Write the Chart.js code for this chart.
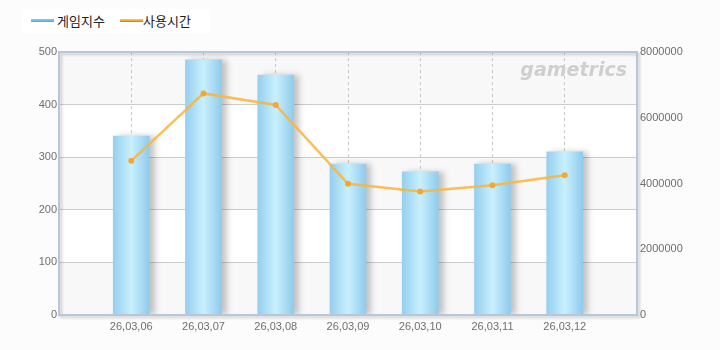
<!DOCTYPE html>
<html>
<head>
<meta charset="utf-8">
<script src="https://cdn.jsdelivr.net/npm/chart.js@4/dist/chart.umd.min.js"></script>
<style>
html, body { margin: 0; padding: 0; background: #fcfcfc; }
#wrap { position: relative; width: 720px; height: 350px; }
#legend { position: absolute; left: 22px; top: 9px; width: 188px; height: 24px; background: #fff;
  font: 13px "Noto Sans CJK KR", sans-serif; color: #222; }
#legend span.ic { position: absolute; top: 10px; width: 23px; height: 3px; }
#legend span.tx { position: absolute; top: 3px; line-height: 17px; }
</style>
</head>
<body>
<div id="wrap">
  <canvas id="myChart" width="720" height="350"></canvas>
  <div id="legend">
    <span class="ic" style="left:9px;background:linear-gradient(#8fd0f0 0,#6bb6e0 60%,#8a8f96 100%)"></span>
    <span class="tx" style="left:35px">게임지수</span>
    <span class="ic" style="left:98px;background:linear-gradient(#ffc860 0,#f4a52c 60%,#8a7a60 100%)"></span>
    <span class="tx" style="left:121px">사용시간</span>
  </div>
</div>
<script>
const categories = ['26,03,06', '26,03,07', '26,03,08', '26,03,09', '26,03,10', '26,03,11', '26,03,12'];
const gameIndex = [340, 485, 456, 287, 272, 287, 310];
const usageTime = [4690000, 6740000, 6390000, 3990000, 3760000, 3950000, 4250000];
const leftTicks = [0, 100, 200, 300, 400, 500];
const rightTicks = [0, 2000000, 4000000, 6000000, 8000000];

// one empty slot on each side of the dates
const labels = [''].concat(categories, ['']);
const barData = [null].concat(gameIndex, [null]);
const lineData = [null].concat(usageTime, [null]);

const bands = {
  id: 'bands',
  beforeDraw(chart) {
    const { ctx, chartArea: a, scales } = chart;
    const y = scales.y;
    ctx.save();
    for (let i = 0; i < leftTicks.length - 1; i++) {
      const top = y.getPixelForValue(leftTicks[i + 1]);
      const bot = y.getPixelForValue(leftTicks[i]);
      ctx.fillStyle = (i % 2 === 0) ? '#f8f8f8' : '#ffffff';
      ctx.fillRect(a.left, top, a.right - a.left, bot - top);
    }
    ctx.restore();
  },
  beforeDatasetDraw(chart, args) {
    if (args.meta.type !== 'bar') return;
    const ctx = chart.ctx;
    ctx.save();
    ctx.shadowColor = 'rgba(0,0,0,0.22)';
    ctx.shadowBlur = 6;
    ctx.shadowOffsetX = 5;
    ctx.shadowOffsetY = 0;
  },
  afterDatasetDraw(chart, args) {
    if (args.meta.type !== 'bar') return;
    chart.ctx.restore();
  },
  afterDraw(chart) {
    const { ctx, chartArea: a } = chart;
    ctx.save();
    ctx.font = 'italic bold 19px "DejaVu Sans", sans-serif';
    ctx.fillStyle = '#cfcfcf';
    ctx.textAlign = 'right';
    ctx.textBaseline = 'alphabetic';
    ctx.fillText('gametrics', a.right - 10, a.top + 24);
    ctx.shadowColor = 'rgba(0,0,0,0.2)';
    ctx.shadowBlur = 3;
    ctx.shadowOffsetX = 2;
    ctx.shadowOffsetY = 2;
    ctx.strokeStyle = '#b7c7da';
    ctx.lineWidth = 2;
    ctx.strokeRect(a.left, a.top, a.right - a.left, a.bottom - a.top);
    ctx.restore();
  }
};

new Chart(document.getElementById('myChart'), {
  data: {
    labels: labels,
    datasets: [
      {
        type: 'line',
        label: '사용시간',
        data: lineData,
        yAxisID: 'y1',
        order: 0,
        borderColor: 'rgba(250,180,60,0.85)',
        borderWidth: 2.5,
        pointRadius: 3,
        pointBackgroundColor: '#f6a733',
        pointBorderWidth: 0,
        tension: 0
      },
      {
        type: 'bar',
        label: '게임지수',
        data: barData,
        yAxisID: 'y',
        order: 1,
        barThickness: 36,
        backgroundColor(c) {
          const x = c.chart.scales.x;
          if (!x || x.left === undefined) return '#aee0f6';
          const cx = x.getPixelForValue(c.dataIndex);
          const g = c.chart.ctx.createLinearGradient(cx - 18, 0, cx + 18, 0);
          g.addColorStop(0, '#95cfee');
          g.addColorStop(0.5, '#c8f0fe');
          g.addColorStop(1, '#90cbec');
          return g;
        }
      }
    ]
  },
  options: {
    responsive: false,
    animation: false,
    layout: { padding: { top: 52, left: 0, right: 0, bottom: 0 } },
    plugins: { legend: { display: false }, tooltip: { enabled: false } },
    scales: {
      x: {
        type: 'category',
        offset: false,
        afterFit(s) { s.height = 35; },
        grid: { color: '#c8c8c8', drawTicks: false, offset: false },
        border: { display: false, dash: [3, 3] },
        ticks: { color: '#6e6e6e', font: { size: 11, family: 'Liberation Sans' }, padding: 5, autoSkip: false, maxRotation: 0 }
      },
      y: {
        position: 'left',
        min: 0, max: 500,
        afterFit(s) { s.width = 59; },
        afterBuildTicks(s) { s.ticks = leftTicks.map(v => ({ value: v })); },
        grid: { color: '#cccccc', drawTicks: false },
        border: { display: false },
        ticks: { color: '#6e6e6e', font: { size: 11, family: 'Liberation Sans' }, padding: 2 }
      },
      y1: {
        position: 'right',
        min: 0, max: 8000000,
        afterFit(s) { s.width = 83; },
        afterBuildTicks(s) { s.ticks = rightTicks.map(v => ({ value: v })); },
        grid: { display: false, drawTicks: false },
        border: { display: false },
        ticks: { color: '#6e6e6e', font: { size: 11, family: 'Liberation Sans' }, padding: 3, callback: v => String(v) }
      }
    }
  },
  plugins: [bands]
});
</script>
</body>
</html>
